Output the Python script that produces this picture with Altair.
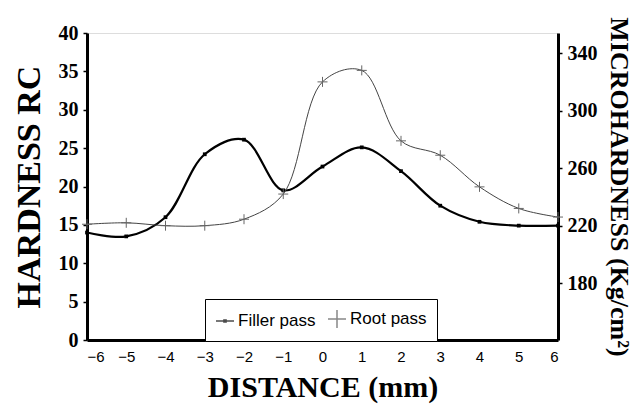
import altair as alt
import pandas as pd

# ---- data ----
distance = [-6, -5, -4, -3, -2, -1, 0, 1, 2, 3, 4, 5, 6]
filler_rc = [14.0, 13.5, 16.0, 24.2, 26.1, 19.5, 22.6, 25.1, 22.0, 17.5, 15.4, 14.9, 14.9]
root_micro = [221, 222, 220, 220, 224.5, 242, 320, 328, 279, 269, 247, 232, 226]
series_names = ["Filler pass", "Root pass"]
x_ticks = [-6, -5, -4, -3, -2, -1, 0, 1, 2, 3, 4, 5, 6]
left_ticks = [0, 5, 10, 15, 20, 25, 30, 35, 40]
right_ticks = [180, 220, 260, 300, 340]

filler_df = pd.DataFrame({"distance": distance, "value": filler_rc, "series": series_names[0]})
root_df = pd.DataFrame({"distance": distance, "value": root_micro, "series": series_names[1]})

SERIF = "Liberation Serif"
SANS = "Liberation Sans"

filler_path = "M-1,0L1,0M-0.12,-0.12L0.12,-0.12L0.12,0.12L-0.12,0.12Z"
cross_path = "M-1,0L1,0M0,-1L0,1"

x_enc = alt.X(
    "distance:Q",
    scale=alt.Scale(domain=[-6, 6], nice=False, zero=False),
    axis=alt.Axis(
        values=x_ticks, title="DISTANCE (mm)", ticks=False, grid=False,
        labelFont=SANS, labelFontSize=15, labelFontWeight="normal", labelPadding=9,
        labelColor="black", domainWidth=3, domainColor="black",
        titleFont=SERIF, titleFontSize=30, titleFontWeight="bold", titlePadding=8,
        titleColor="black",
    ),
)

y_left = alt.Y(
    "value:Q",
    scale=alt.Scale(domain=[0, 40], nice=False, zero=False),
    axis=alt.Axis(
        values=left_ticks, title="HARDNESS RC", orient="left", grid=False,
        tickSize=4, tickWidth=1.5, tickColor="black", labelPadding=5,
        labelFont=SERIF, labelFontSize=20, labelFontWeight="bold", labelColor="black",
        domainWidth=3, domainColor="black",
        titleFont=SERIF, titleFontSize=34, titleFontWeight="bold", titlePadding=12,
        titleColor="black",
    ),
)

y_right = alt.Y(
    "value:Q",
    scale=alt.Scale(domain=[140.5, 354], nice=False, zero=False),
    axis=alt.Axis(
        values=right_ticks, title="MICROHARDNESS (Kg/cm²)", orient="right", grid=False,
        tickSize=4, tickWidth=1.5, tickColor="black", labelPadding=5,
        labelFont=SERIF, labelFontSize=20, labelFontWeight="bold", labelColor="black",
        domainWidth=3, domainColor="black",
        titleFont=SERIF, titleFontSize=26, titleFontWeight="bold", titlePadding=8,
        titleColor="black",
    ),
)

filler_line = alt.Chart(filler_df).mark_line(
    color="black", strokeWidth=2.2, interpolate="catmull-rom"
).encode(x=x_enc, y=y_left)

filler_pts = alt.Chart(filler_df).mark_point(
    shape="square", filled=True, color="black", size=14, opacity=1
).encode(x=x_enc, y=y_left)

legend_def = alt.Legend(
    title=None, orient="none", legendX=118, legendY=266, direction="horizontal",
    strokeColor="black", fillColor="white", padding=10,
    labelFont=SANS, labelFontSize=17, labelColor="black", labelOffset=3,
    symbolSize=324, symbolStrokeWidth=1.5, columnPadding=9,
)

legend_layer = alt.Chart(filler_df).transform_filter("false").mark_point(
    filled=False, strokeWidth=1.5
).encode(
    x=x_enc, y=y_left,
    color=alt.Color("series:N", scale=alt.Scale(domain=series_names, range=["black", "#555555"]),
                    legend=legend_def),
    shape=alt.Shape("series:N", scale=alt.Scale(domain=series_names, range=[filler_path, cross_path]),
                    legend=legend_def),
)

root_line = alt.Chart(root_df).mark_line(
    color="#444444", strokeWidth=1, interpolate="catmull-rom"
).encode(x=x_enc, y=y_right)

root_pts = alt.Chart(root_df).mark_point(
    shape=cross_path, filled=False, color="#666666", strokeWidth=1, size=100, opacity=1
).encode(x=x_enc, y=y_right)

left_group = alt.layer(filler_line, filler_pts, legend_layer)
right_group = alt.layer(root_line, root_pts)

chart = alt.layer(left_group, right_group).resolve_scale(y="independent").properties(
    width=471, height=307,
    autosize=alt.AutoSizeParams(type="none"),
    padding={"left": 79, "top": 25, "right": 75, "bottom": 64},
).configure_view(
    stroke="black", strokeWidth=3
).configure_legend(
    strokeWidth=1.5
).configure(background="white")

chart.save("out.html", embed_options={"renderer": "svg", "actions": False})
